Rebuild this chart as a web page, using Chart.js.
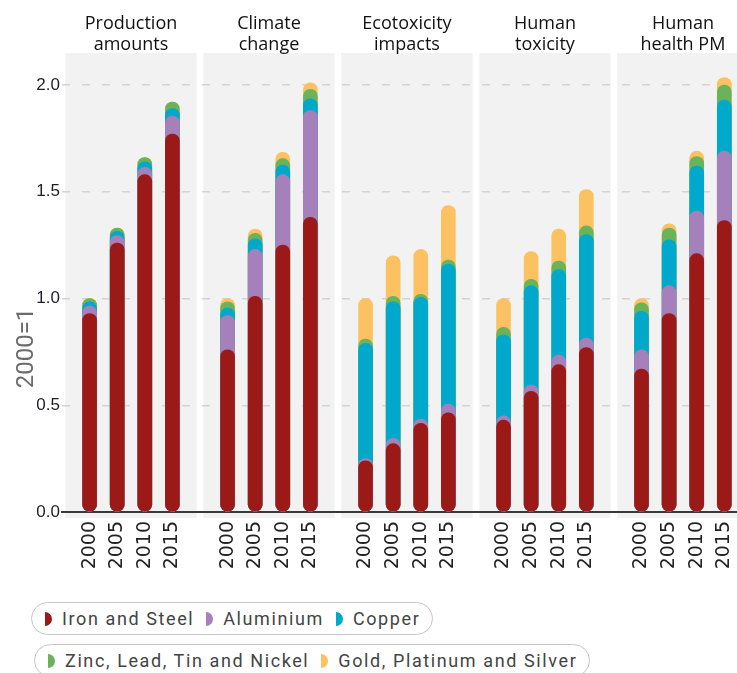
<!DOCTYPE html>
<html>
<head>
<meta charset="utf-8">
<script src="https://cdn.jsdelivr.net/npm/chart.js@4.4.1/dist/chart.umd.min.js"></script>
<style>
  body { margin: 0; background: #fff; width: 737px; height: 673px; overflow: hidden; position: relative; font-family: Roboto, sans-serif; }
  #wrap { position: absolute; left: 0; top: 0; width: 737px; height: 590px; }
  .legend { position: absolute; display: flex; align-items: center; height: 31px; padding: 0 12px 0 13px;
            border: 1.5px solid #c6c6c6; border-radius: 17px; font-size: 18px; letter-spacing: 1.6px; color: #444; white-space: nowrap; }
  .legend span.m { display: inline-block; width: 7px; height: 14px; border-radius: 0 7px 7px 0; margin-right: 10px; }
  .legend span.t { margin-right: 12px; }
  .legend span.t:last-child { margin-right: 0; }
</style>
</head>
<body>
<div id="wrap"><canvas id="myChart"></canvas></div>
<div class="legend" id="leg1" style="left:31px; top:602px;"></div>
<div class="legend" id="leg2" style="left:34px; top:644px;"></div>
<script>
// facets and years
const panelTitles = [['Production', 'amounts'], ['Climate', 'change'], ['Ecotoxicity', 'impacts'], ['Human', 'toxicity'], ['Human', 'health PM']];
const yearLabels = ['2000', '2005', '2010', '2015'];

// values per panel, 4 years each (2000=1)
const ironSteel = [0.93, 1.26, 1.58, 1.77,  0.76, 1.01, 1.25, 1.38,  0.24, 0.32, 0.415, 0.465,  0.43, 0.565, 0.69, 0.77,  0.67, 0.93, 1.21, 1.365];
const aluminium = [0.035, 0.035, 0.035, 0.085,  0.16, 0.22, 0.33, 0.5,  0.01, 0.025, 0.02, 0.04,  0.02, 0.03, 0.045, 0.045,  0.09, 0.13, 0.2, 0.325];
const copper    = [0.02, 0.02, 0.025, 0.035,  0.035, 0.05, 0.045, 0.055,  0.54, 0.64, 0.57, 0.655,  0.38, 0.465, 0.4, 0.485,  0.18, 0.215, 0.21, 0.24];
const zincEtc   = [0.015, 0.015, 0.02, 0.03,  0.03, 0.025, 0.03, 0.045,  0.02, 0.025, 0.015, 0.02,  0.035, 0.03, 0.04, 0.04,  0.04, 0.055, 0.045, 0.07];
const goldEtc   = [0, 0, 0, 0,  0.015, 0.02, 0.03, 0.03,  0.19, 0.19, 0.21, 0.255,  0.135, 0.13, 0.15, 0.17,  0.02, 0.02, 0.025, 0.035];

const seriesNames = ['Iron and Steel', 'Aluminium', 'Copper', 'Zinc, Lead, Tin and Nickel', 'Gold, Platinum and Silver'];
const seriesColors = ['#9b1a17', '#a680bb', '#00a8cc', '#6bb35a', '#fcc161'];
const allSeries = [ironSteel, aluminium, copper, zincEtc, goldEtc];

// bar positions: 5 slots per panel, bars in the middle four
const positions = [];
panelTitles.forEach((t, p) => yearLabels.forEach((y, j) => positions.push(p * 5 + 1 + j)));

// each segment drawn as a pill from 0 to its running total, lower ones on top
const running = positions.map(() => 0);
const datasets = allSeries.map((vals, s) => {
    const data = vals.map((v, i) => {
        running[i] += v;
        return { x: positions[i], y: running[i] };
    });
    return {
        label: seriesNames[s],
        data: data,
        backgroundColor: seriesColors[s],
        borderRadius: 7,
        borderSkipped: false,
        barThickness: 14,
        grouped: false
    };
});

const panelPlugin = {
    id: 'panels',
    beforeDraw(chart) {
        const ctx = chart.ctx, xs = chart.scales.x, area = chart.chartArea;
        ctx.save();
        ctx.fillStyle = '#f2f2f2';
        panelTitles.forEach((t, p) => {
            const x0 = xs.getPixelForValue(p * 5 + 0.12);
            const x1 = xs.getPixelForValue(p * 5 + 4.88);
            ctx.fillRect(x0, area.top, x1 - x0, area.bottom + 6 - area.top);
        });
        ctx.restore();
    },
    afterDraw(chart) {
        const ctx = chart.ctx, xs = chart.scales.x;
        ctx.save();
        ctx.fillStyle = '#111';
        ctx.font = '18px "Open Sans"';
        ctx.textAlign = 'center';
        ctx.textBaseline = 'alphabetic';
        panelTitles.forEach((t, p) => {
            const cx = xs.getPixelForValue(p * 5 + 2.5);
            ctx.fillText(t[0], cx, 29);
            ctx.fillText(t[1], cx, 50);
        });
        // y axis title
        ctx.translate(27, 348);
        ctx.rotate(-Math.PI / 2);
        ctx.fillStyle = '#6b6b6b';
        ctx.font = '24px Roboto';
        ctx.textBaseline = 'middle';
        ctx.fillText('2000=1', 0, 0);
        ctx.restore();
    }
};

const ctx = document.getElementById('myChart').getContext('2d');
new Chart(ctx, {
    type: 'bar',
    data: { datasets: datasets },
    plugins: [panelPlugin],
    options: {
        responsive: true,
        maintainAspectRatio: false,
        animation: false,
        layout: { padding: { top: 53, left: 0, right: 0, bottom: 0 } },
        plugins: { legend: { display: false }, tooltip: { enabled: false } },
        scales: {
            x: {
                type: 'linear',
                offset: false,
                min: 0,
                max: 24.46,
                afterBuildTicks: scale => { scale.ticks = positions.map(v => ({ value: v })); },
                afterFit: scale => {
                    scale.height = 78;
                    scale.paddingLeft = 0;
                    scale.paddingRight = 0;
                },
                grid: { display: false, drawTicks: false },
                border: { display: true, color: '#3a3a3a', width: 2 },
                ticks: {
                    autoSkip: false,
                    minRotation: 90,
                    maxRotation: 90,
                    padding: 9,
                    color: '#222',
                    font: { family: 'DejaVu Sans', size: 19 },
                    callback: (v, i) => yearLabels[i % 4]
                }
            },
            y: {
                min: 0,
                max: 2.15,
                stacked: false,
                afterFit: scale => { scale.width = 62; },
                grid: {
                    drawTicks: false,
                    lineWidth: 1.5,
                    color: c => (c.tick && c.tick.value === 0) ? 'rgba(0,0,0,0)' : '#d3d3d3'
                },
                border: { display: false, dash: [8, 12] },
                ticks: {
                    stepSize: 0.5,
                    includeBounds: false,
                    padding: 2,
                    color: '#1e1e2a',
                    font: { family: 'Liberation Sans', size: 17 },
                    callback: v => v.toFixed(1)
                }
            }
        }
    }
});

// html legend in two rounded boxes
function fillLegend(id, idx) {
    const box = document.getElementById(id);
    idx.forEach(i => {
        const m = document.createElement('span');
        m.className = 'm';
        m.style.background = seriesColors[i];
        const t = document.createElement('span');
        t.className = 't';
        t.textContent = seriesNames[i];
        box.appendChild(m);
        box.appendChild(t);
    });
}
fillLegend('leg1', [0, 1, 2]);
fillLegend('leg2', [3, 4]);
</script>
</body>
</html>
